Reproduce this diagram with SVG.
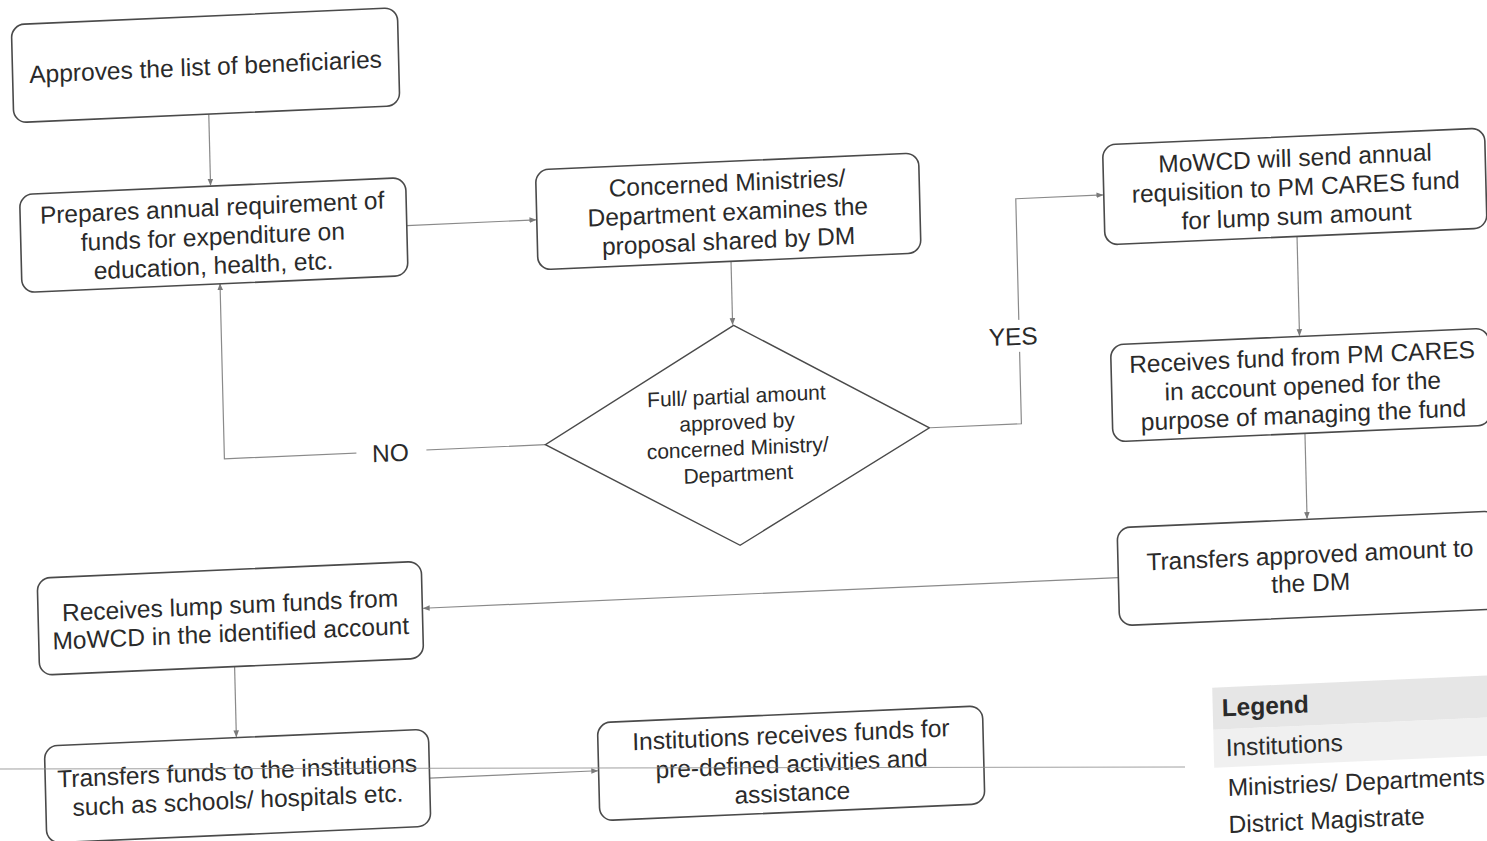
<svg xmlns="http://www.w3.org/2000/svg" width="1487" height="841" viewBox="0 0 1487 841">
<style>
.box{fill:#ffffff;stroke:#4a4a4a;stroke-width:1.6}
.t{font-family:"Liberation Sans",Arial,sans-serif;font-size:24.5px;fill:#2a2a2a;text-anchor:middle}
.d{font-family:"Liberation Sans",Arial,sans-serif;font-size:21px;fill:#2a2a2a;text-anchor:middle}
.lg{font-family:"Liberation Sans",Arial,sans-serif;font-size:24.5px;fill:#2a2a2a}
.c{fill:none;stroke:#8a8a8a;stroke-width:1.2}
</style>
<defs>
<marker id="ah" viewBox="0 0 10 10" refX="9" refY="5" markerWidth="7" markerHeight="7" orient="auto" markerUnits="userSpaceOnUse">
<path d="M0,1 L10,5 L0,9 z" fill="#7a7a7a"/>
</marker>
</defs>
<rect width="1487" height="841" fill="#ffffff"/>
<g transform="matrix(1,-0.044,0.025,1,-10.5,32.69)">
<g id="legend">
<rect x="1205" y="708" width="300" height="42" fill="#dcdcdc" opacity="0.7"/>
<rect x="1205" y="750" width="300" height="38" fill="#e9e9e9" opacity="0.7"/>
<text class="lg" x="1214" y="737" font-weight="bold">Legend</text>
<text class="lg" x="1217" y="777">Institutions</text>
<text class="lg" x="1218" y="817">Ministries/ Departments</text>
<text class="lg" x="1218" y="854">District Magistrate</text>
</g>
<g id="connectors">
<line class="c" x1="217" y1="91" x2="217" y2="162" marker-end="url(#ah)"/>
<line class="c" x1="412" y1="211" x2="541" y2="211" marker-end="url(#ah)"/>
<line class="c" x1="735" y1="261" x2="735" y2="324" marker-end="url(#ah)"/>
<polyline class="c" points="930,436 1021,436 1021,211 1108,211" marker-end="url(#ah)"/>
<polyline class="c" points="545,436 224,436 224,261" marker-end="url(#ah)"/>
<line class="c" x1="1301" y1="261" x2="1301" y2="360" marker-end="url(#ah)"/>
<line class="c" x1="1304" y1="458" x2="1304" y2="543" marker-end="url(#ah)"/>
<line class="c" x1="1114" y1="594" x2="419" y2="594" marker-end="url(#ah)"/>
<line class="c" x1="229" y1="644" x2="229" y2="714" marker-end="url(#ah)"/>
<line class="c" x1="421" y1="764" x2="589" y2="764" marker-end="url(#ah)"/>
<rect x="988" y="332" width="56" height="32" fill="#ffffff"/>
<text class="t" x="1015" y="357">YES</text>
<rect x="356" y="423" width="70" height="30" fill="#ffffff"/>
<text class="t" x="390" y="446">NO</text>
</g>
<g id="approves">
<rect class="box" x="22" y="-7" width="386" height="98" rx="13"/>
<text class="t" x="215" y="52">Approves the list of beneficiaries</text>
</g>
<g id="prepares">
<rect class="box" x="26" y="163" width="386" height="98" rx="13"/>
<text class="t" x="218" y="193">Prepares annual requirement of</text>
<text class="t" x="218" y="222">funds for expenditure on</text>
<text class="t" x="218" y="251">education, health, etc.</text>
</g>
<g id="ministries">
<rect class="box" x="542" y="161" width="383" height="100" rx="13"/>
<text class="t" x="733" y="191">Concerned Ministries/</text>
<text class="t" x="733" y="220">Department examines the</text>
<text class="t" x="733" y="249">proposal shared by DM</text>
</g>
<g id="decision">
<polygon points="736,325 929,436 737,545 545,436" fill="#ffffff" stroke="#4a4a4a" stroke-width="1.4"/>
<text class="d" x="737" y="403">Full/ partial amount</text>
<text class="d" x="737" y="429">approved by</text>
<text class="d" x="737" y="455">concerned Ministry/</text>
<text class="d" x="737" y="481">Department</text>
</g>
<g id="mowcd">
<rect class="box" x="1109" y="161" width="382" height="100" rx="13"/>
<text class="t" x="1301" y="191">MoWCD will send annual</text>
<text class="t" x="1301" y="220">requisition to PM CARES fund</text>
<text class="t" x="1301" y="249">for lump sum amount</text>
</g>
<g id="receives-pmcares">
<rect class="box" x="1112" y="361" width="378" height="97" rx="13"/>
<text class="t" x="1303" y="390">Receives fund from PM CARES</text>
<text class="t" x="1303" y="419">in account opened for the</text>
<text class="t" x="1303" y="448">purpose of managing the fund</text>
</g>
<g id="transfers-dm">
<rect class="box" x="1114" y="544" width="380" height="98" rx="13"/>
<text class="t" x="1306" y="588">Transfers approved amount to</text>
<text class="t" x="1306" y="616">the DM</text>
</g>
<g id="receives-lumpsum">
<rect class="box" x="34" y="547" width="384" height="97" rx="13"/>
<text class="t" x="226" y="591">Receives lump sum funds from</text>
<text class="t" x="226" y="619">MoWCD in the identified account</text>
</g>
<g id="transfers-institutions">
<rect class="box" x="37" y="715" width="384" height="97" rx="13"/>
<text class="t" x="229" y="757">Transfers funds to the institutions</text>
<text class="t" x="229" y="786">such as schools/ hospitals etc.</text>
</g>
<g id="institutions-receive">
<rect class="box" x="590" y="716" width="385" height="98" rx="13"/>
<text class="t" x="783" y="745">Institutions receives funds for</text>
<text class="t" x="783" y="774">pre-defined activities and</text>
<text class="t" x="783" y="803">assistance</text>
</g>
</g>
<line x1="0" y1="769" x2="1185" y2="767" stroke="#8a8a8a" stroke-width="1" opacity="0.8"/>
</svg>
